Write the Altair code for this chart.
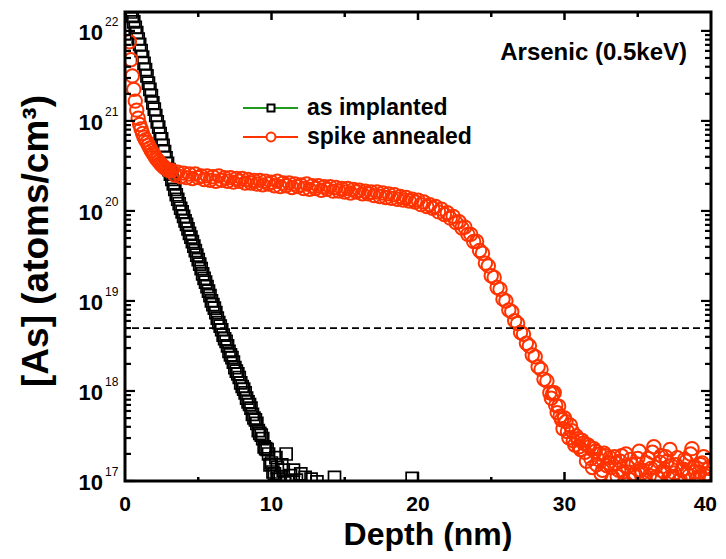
import altair as alt
import pandas as pd

# ---------------- data (log10 of concentration) ----------------
black_depth = [0.0, 0.1, 0.2, 0.3, 0.4, 0.5, 0.6, 0.7, 0.8, 0.9,
               1.0, 1.1, 1.2, 1.3, 1.4, 1.5, 1.6, 1.7, 1.8, 1.9,
               2.0, 2.1, 2.2, 2.3, 2.4, 2.5, 2.6, 2.7, 2.8, 2.9,
               3.0, 3.1, 3.2, 3.3, 3.4, 3.5, 3.6, 3.7, 3.8, 3.9,
               4.0, 4.1, 4.2, 4.3, 4.4, 4.5, 4.6, 4.7, 4.8, 4.9,
               5.0, 5.1, 5.2, 5.3, 5.4, 5.5, 5.6, 5.7, 5.8, 5.9,
               6.0, 6.1, 6.2, 6.3, 6.4, 6.5, 6.6, 6.7, 6.8, 6.9,
               7.0, 7.1, 7.2, 7.3, 7.4, 7.5, 7.6, 7.7, 7.8, 7.9,
               8.0, 8.1, 8.2, 8.3, 8.4, 8.5, 8.6, 8.7, 8.8, 8.9,
               9.0, 9.1, 9.2, 9.3, 9.4, 9.5, 9.6, 9.7, 9.8, 9.9,
               10.0, 10.1, 10.2, 10.3, 10.4, 10.5, 10.6, 10.7, 10.8, 10.9,
               11.0, 11.1, 11.3, 11.5, 11.7, 12.0, 12.3, 12.7, 13.1, 14.3, 19.6]
black_log = [22.45, 22.40, 22.33, 22.27, 22.21, 22.16, 22.10, 22.04, 21.98, 21.91,
             21.85, 21.78, 21.71, 21.64, 21.57, 21.50, 21.42, 21.35, 21.28, 21.20,
             21.13, 21.06, 20.99, 20.93, 20.86, 20.80, 20.73, 20.66, 20.59, 20.53,
             20.46, 20.41, 20.35, 20.30, 20.24, 20.18, 20.13, 20.08, 20.03, 19.99,
             19.94, 19.89, 19.85, 19.80, 19.75, 19.71, 19.66, 19.61, 19.56, 19.51,
             19.46, 19.41, 19.36, 19.30, 19.25, 19.21, 19.16, 19.11, 19.06, 19.00,
             18.96, 18.92, 18.87, 18.81, 18.76, 18.72, 18.68, 18.62, 18.58, 18.55,
             18.50, 18.44, 18.40, 18.37, 18.32, 18.26, 18.22, 18.19, 18.15, 18.09,
             18.05, 18.02, 17.98, 17.92, 17.88, 17.85, 17.81, 17.74, 17.70, 17.68,
             17.64, 17.56, 17.53, 17.51, 17.47, 17.38, 17.36, 17.35, 17.30, 17.18,
             17.20, 17.10, 17.08, 17.26, 17.15, 17.02, 17.05, 17.18, 17.12, 16.98,
             17.30, 17.00, 17.06, 17.12, 17.01, 17.08, 17.04, 17.02, 16.99, 17.04, 17.03]

red_rise_depth = [0.3, 0.4, 0.5, 0.6, 0.7, 0.8, 0.9, 1.0, 1.1, 1.2,
                  1.3, 1.4, 1.5, 1.6, 1.7, 1.8, 1.9, 2.0, 2.1, 2.2,
                  2.3, 2.4, 2.5, 2.6, 2.7, 2.8, 2.9, 3.0]
red_rise_log = [21.88, 21.68, 21.50, 21.35, 21.22, 21.12, 21.03, 20.96, 20.91, 20.86,
                20.82, 20.79, 20.76, 20.73, 20.70, 20.67, 20.64, 20.62, 20.59, 20.57,
                20.55, 20.53, 20.51, 20.50, 20.48, 20.47, 20.46, 20.45]

red_plateau_depth = [3.2, 3.4, 3.6, 3.8, 4.0, 4.2, 4.4, 4.6, 4.8, 5.0,
                     5.2, 5.4, 5.6, 5.8, 6.0, 6.2, 6.4, 6.6, 6.8, 7.0,
                     7.2, 7.4, 7.6, 7.8, 8.0, 8.2, 8.4, 8.6, 8.8, 9.0,
                     9.2, 9.4, 9.6, 9.8, 10.0, 10.2, 10.4, 10.6, 10.8, 11.0,
                     11.2, 11.4, 11.6, 11.8, 12.0, 12.2, 12.4, 12.6, 12.8, 13.0,
                     13.2, 13.4, 13.6, 13.8, 14.0, 14.2, 14.4, 14.6, 14.8, 15.0,
                     15.2, 15.4, 15.6, 15.8, 16.0, 16.2, 16.4, 16.6, 16.8, 17.0,
                     17.2, 17.4, 17.6, 17.8, 18.0, 18.2, 18.4, 18.6, 18.8, 19.0,
                     19.2, 19.4, 19.6, 19.8, 20.0, 20.2, 20.4, 20.6, 20.8, 21.0]
red_plateau_log = [20.45, 20.40, 20.43, 20.38, 20.42, 20.37, 20.41, 20.36, 20.41, 20.37,
                   20.39, 20.35, 20.39, 20.34, 20.38, 20.33, 20.39, 20.34, 20.37, 20.33,
                   20.37, 20.32, 20.36, 20.33, 20.36, 20.31, 20.35, 20.31, 20.34, 20.30,
                   20.34, 20.29, 20.33, 20.30, 20.32, 20.28, 20.33, 20.27, 20.31, 20.28,
                   20.31, 20.26, 20.30, 20.27, 20.29, 20.25, 20.30, 20.24, 20.28, 20.25,
                   20.28, 20.23, 20.27, 20.24, 20.27, 20.22, 20.26, 20.22, 20.25, 20.21,
                   20.25, 20.20, 20.24, 20.21, 20.23, 20.19, 20.22, 20.19, 20.21, 20.17,
                   20.21, 20.16, 20.20, 20.15, 20.19, 20.14, 20.18, 20.13, 20.16, 20.12,
                   20.15, 20.11, 20.13, 20.10, 20.12, 20.07, 20.10, 20.05, 20.07, 20.03]

red_edge_depth = [21.2, 21.4, 21.6, 21.8, 22.0, 22.2, 22.4, 22.6, 22.8, 23.0,
                  23.2, 23.4, 23.6, 23.8, 24.0, 24.2, 24.4, 24.6, 24.8, 25.0,
                  25.2, 25.4, 25.6, 25.8, 26.0, 26.2, 26.4, 26.6, 26.8, 27.0,
                  27.2, 27.4, 27.6, 27.8, 28.0, 28.2, 28.4, 28.6, 28.8, 29.0,
                  29.2, 29.4, 29.6, 29.8, 30.0, 30.2, 30.4, 30.6, 30.8, 31.0]
red_edge_log = [20.05, 19.99, 20.02, 19.96, 19.98, 19.92, 19.94, 19.87, 19.88, 19.81,
                19.82, 19.74, 19.74, 19.66, 19.66, 19.56, 19.53, 19.42, 19.39, 19.28,
                19.26, 19.15, 19.13, 19.02, 19.00, 18.90, 18.88, 18.78, 18.75, 18.65,
                18.63, 18.53, 18.50, 18.40, 18.38, 18.27, 18.24, 18.13, 18.11, 17.98,
                17.97, 17.84, 17.83, 17.68, 17.70, 17.55, 17.62, 17.45, 17.50, 17.38]

red_floor_depth = [31.2, 31.4, 31.6, 31.8, 32.0, 32.2, 32.4, 32.6, 32.8, 33.0,
                   33.2, 33.4, 33.6, 33.8, 34.0, 34.2, 34.4, 34.6, 34.8, 35.0,
                   35.2, 35.4, 35.6, 35.8, 36.0, 36.2, 36.4, 36.6, 36.8, 37.0,
                   37.2, 37.4, 37.6, 37.8, 38.0, 38.2, 38.4, 38.6, 38.8, 39.0,
                   39.2, 39.4, 39.6, 39.8, 40.0,
                   29.1, 29.3, 29.5, 29.7, 29.9, 30.1, 30.3, 30.5, 30.7, 30.9,
                   31.1, 31.3, 31.5, 31.7, 31.9, 32.1, 32.3, 32.5, 32.7, 32.9,
                   33.1, 33.3, 33.5, 33.7, 33.9, 34.1, 34.3, 34.5, 34.7, 34.9,
                   35.1, 35.3, 35.5, 35.7, 35.9, 36.1, 36.3, 36.5, 36.7, 36.9,
                   37.1, 37.3, 37.5, 37.7, 37.9, 38.1, 38.3, 38.5, 38.7, 38.9,
                   39.1, 39.3, 39.5, 39.7, 39.9]
red_floor_log = [17.45, 17.32, 17.40, 17.25, 17.36, 17.18, 17.30, 17.12, 17.28, 17.20,
                 17.15, 17.27, 17.05, 17.22, 17.10, 17.30, 17.02, 17.18, 17.08, 17.25,
                 17.12, 16.98, 17.20, 17.06, 17.32, 17.15, 17.03, 17.28, 17.10, 17.22,
                 17.35, 17.05, 17.18, 17.00, 17.12, 17.24, 17.08, 17.30, 17.15, 17.02,
                 17.10, 17.20, 17.06, 17.14, 17.02,
                 17.92, 17.98, 17.76, 17.72, 17.58, 17.66, 17.48, 17.56, 17.40, 17.47,
                 17.35, 17.42, 17.22, 17.38, 17.15, 17.33, 17.24, 17.08, 17.31, 17.17,
                 17.26, 17.04, 17.20, 17.12, 17.28, 16.99, 17.16, 17.24, 17.07, 17.19,
                 17.33, 17.09, 17.01, 17.25, 17.14, 17.38, 17.05, 17.21, 17.11, 17.27,
                 17.03, 17.17, 17.09, 17.26, 17.01, 17.13, 17.22, 17.06, 17.36, 17.10,
                 17.04, 17.18, 17.27, 17.08, 17.15]

threshold = [5e18]
x_tick_labels = [0, 10, 20, 30]
x_last_label = [40]
x_major_ticks = [10, 20, 30]
x_minor_ticks = [5, 15, 25, 35]
y_major_ticks = [1e17, 1e18, 1e19, 1e20, 1e21, 1e22]
y_exponents = ["17", "18", "19", "20", "21", "22"]
y_minor_ticks = [m * 10.0 ** k for k in range(17, 22) for m in range(2, 10)]

x_title = "Depth (nm)"
y_title = "[As] (atoms/cm³)"
note_text = "Arsenic (0.5keV)"
series_names = ["as implanted", "spike annealed"]

# ---------------- layout / style ----------------
W, H = 586, 469
FONT = "Liberation Sans"
RED = "#ff3300"
GREEN = "#1f9a1f"

black = pd.DataFrame({"depth": black_depth, "conc": [10 ** v for v in black_log]})
red = pd.DataFrame({
    "depth": red_rise_depth + red_plateau_depth + red_edge_depth + red_floor_depth,
    "conc": [10 ** v for v in red_rise_log + red_plateau_log + red_edge_log + red_floor_log],
})
ymaj = pd.DataFrame({"v": y_major_ticks, "e": y_exponents})
ymin = pd.DataFrame({"v": y_minor_ticks})
xmaj = pd.DataFrame({"v": x_major_ticks})
xmin = pd.DataFrame({"v": x_minor_ticks})
xlab = pd.DataFrame({"v": x_tick_labels})
xlab_last = pd.DataFrame({"v": x_last_label})
one = pd.DataFrame({"a": [0]})

x_scale = alt.Scale(domain=[0, 40], nice=False, zero=False)
y_scale = alt.Scale(type="log", domain=[1e17, 10 ** 22.21], nice=False)

pts_black = alt.Chart(black).mark_point(
    shape="square", filled=False, color="black", strokeWidth=1.7,
    size=144, opacity=1, clip=True
).encode(
    x=alt.X("depth:Q", scale=x_scale, axis=None),
    y=alt.Y("conc:Q", scale=y_scale, axis=None),
)
pts_red = alt.Chart(red).mark_point(
    shape="circle", filled=False, color=RED, strokeWidth=2,
    size=180, opacity=1, clip=True
).encode(
    x=alt.X("depth:Q", scale=x_scale, axis=None),
    y=alt.Y("conc:Q", scale=y_scale, axis=None),
)

dash = alt.Chart(pd.DataFrame({"v": threshold})).mark_rule(
    color="black", strokeWidth=1.8, strokeDash=[7, 4]
).encode(y=alt.Y("v:Q", scale=y_scale, axis=None))


def yticks(df, x0, x1):
    return alt.Chart(df).mark_rule(color="black", strokeWidth=2.2).encode(
        y=alt.Y("v:Q", scale=y_scale, axis=None), x=alt.value(x0), x2=alt.value(x1))


def xticks(df, y0, y1):
    return alt.Chart(df).mark_rule(color="black", strokeWidth=2.5).encode(
        x=alt.X("v:Q", scale=x_scale, axis=None), y=alt.value(y0), y2=alt.value(y1))


ticks = [
    yticks(ymaj, 0, 10), yticks(ymin, 0, 6),
    yticks(ymaj, W, W - 10), yticks(ymin, W, W - 6),
    xticks(xmaj, H, H - 9), xticks(xmin, H, H - 4),
    xticks(xmaj, 0, 8), xticks(xmin, 0, 5),
]

ylab_base = alt.Chart(ymaj).mark_text(
    text="10", align="right", baseline="middle", dy=2, font=FONT, fontSize=22,
    fontWeight="bold", color="black"
).encode(y=alt.Y("v:Q", scale=y_scale, axis=None), x=alt.value(-22))
ylab_exp = alt.Chart(ymaj).mark_text(
    align="left", baseline="middle", dy=-9, font=FONT, fontSize=12, color="black"
).encode(y=alt.Y("v:Q", scale=y_scale, axis=None), x=alt.value(-20), text="e:N")

xlab_text = alt.Chart(xlab).mark_text(
    align="center", baseline="middle", font=FONT, fontSize=21, fontWeight="bold", color="black"
).encode(x=alt.X("v:Q", scale=x_scale, axis=None), y=alt.value(H + 24), text="v:Q")
xlab_text_last = alt.Chart(xlab_last).mark_text(
    align="right", baseline="middle", dx=6, font=FONT, fontSize=21, fontWeight="bold",
    color="black"
).encode(x=alt.X("v:Q", scale=x_scale, axis=None), y=alt.value(H + 24), text="v:Q")

xtitle = alt.Chart(one).mark_text(
    text=x_title, align="center", baseline="middle", font=FONT, fontSize=32,
    fontWeight="bold", color="black"
).encode(x=alt.value(303), y=alt.value(H + 54))
ytitle = alt.Chart(one).mark_text(
    text=y_title, align="center", baseline="middle", angle=270, font=FONT, fontSize=37,
    fontWeight="bold", color="black"
).encode(x=alt.value(-88), y=alt.value(229))

note = alt.Chart(one).mark_text(
    text=note_text, align="right", baseline="middle", font=FONT, fontSize=24,
    fontWeight="bold", color="black"
).encode(x=alt.value(562), y=alt.value(41))

legend_layers = []
for row_y, label, col, shape, sym_stroke, sym_size in [
    (96, series_names[0], GREEN, "square", "black", 49),
    (125, series_names[1], RED, "circle", RED, 80),
]:
    legend_layers.append(alt.Chart(one).mark_rule(color=col, strokeWidth=2).encode(
        x=alt.value(118), x2=alt.value(173), y=alt.value(row_y)))
    legend_layers.append(alt.Chart(one).mark_point(
        shape=shape, filled=True, fill="white", stroke=sym_stroke, strokeWidth=2,
        size=sym_size, opacity=1).encode(x=alt.value(146), y=alt.value(row_y)))
    legend_layers.append(alt.Chart(one).mark_text(
        text=label, align="left", baseline="middle", font=FONT, fontSize=23,
        fontWeight="bold", color="black").encode(x=alt.value(182), y=alt.value(row_y)))

frame = alt.Chart(one).mark_rect(
    fillOpacity=0, stroke="black", strokeWidth=3
).encode(x=alt.value(0), x2=alt.value(W), y=alt.value(0), y2=alt.value(H))

chart = alt.layer(
    pts_black, pts_red, dash, *ticks, ylab_base, ylab_exp, xlab_text, xlab_text_last,
    xtitle, ytitle, note, *legend_layers, frame
).properties(
    width=W, height=H,
    padding={"left": 117, "top": 4, "right": 7, "bottom": 70},
    autosize=alt.AutoSizeParams(type="none"),
).configure_view(strokeWidth=0)

chart.save("out.html", embed_options={"renderer": "svg", "actions": False})
